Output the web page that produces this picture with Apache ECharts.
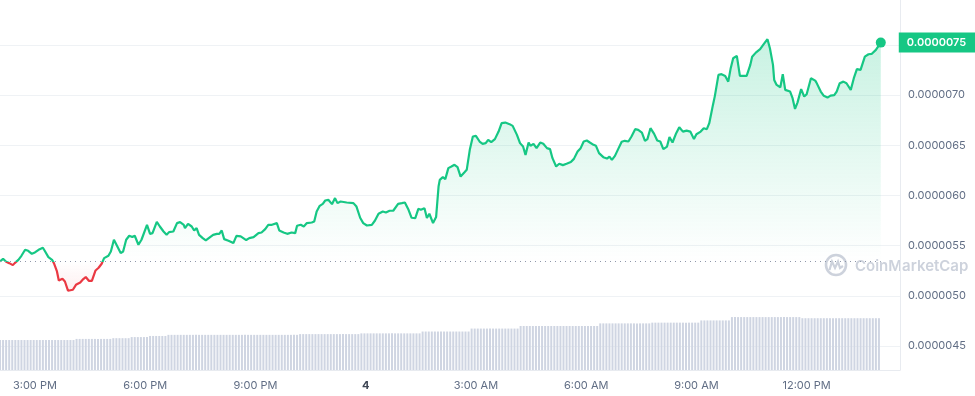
<!DOCTYPE html>
<html><head><meta charset="utf-8">
<script src="https://cdn.jsdelivr.net/npm/echarts@6/dist/echarts.min.js"></script>
<style>html,body{margin:0;padding:0;background:#fff}#c{width:975px;height:396px}</style>
</head><body><div id="c"></div>
<script>
// Chart starts at 14:03 on day 3; hours are counted from midnight of day 3.
const startHour = 14.05;
// Price samples: minutes elapsed since start, and price in USD
const minutes = [0,5,10,15,21,24,30,35,41,46,52,57,63,70,73,79,85,88,93,96,102,106,111,114,119,124,131,136,140,145,150,156,161,166,170,177,181,186,191,197,201,206,211,216,220,226,231,240,245,249,256,261,267,272,276,
283,289,294,300,302,307,313,317,321,325,331,336,343,348,354,358,362,366,373,381,386,393,396,402,407,414,422,427,433,438,444,447,452,456,463,469,476,482,485,491,496,501,509,513,517,522,527,531,536,542,547,551,556,566,577,582,588,593,599,607,
612,618,625,630,636,642,650,656,661,667,672,678,683,687,693,697,701,707,712,716,718,723,727,732,737,742,747,752,758,762,767,772,777,783,788,793,797,802,808,814,819,825,832,837,844,849,854,858,863,866,871,876,882,887,893,898,
902,908,913,919,925,932,937,943,948,953,958,963,969,973,978,985,991,995,999,1004,1010,1015,1020,1026,1031,1037,1042,1048,1053,1057,1062,1068,1073,1078,1083,1089,1093,1098,1104,1109,1115,1121,1127,1133,1137,1144,1149,1154,1158,1164,1167,1173,
1178,1184,1189,1193,1197,1203,1208,1214,1219,1225,1228,1234,1241,1246,1253,1257,1262,1264,1268,1274,1278,1282,1285,1290,1294,1298,1302,1308,1313,1317,1324,1331,1333,1340,1345,1351,1356,1362,1366,1371,1377,1382,1389,1394,1399,1405,1412,1418,1423,1430,1438];
const prices = [
5.342e-6,5.369e-6,5.339e-6,5.326e-6,5.306e-6,5.326e-6,5.359e-6,5.399e-6,5.459e-6,5.449e-6,5.419e-6,5.432e-6,5.459e-6,5.479e-6,5.449e-6,5.386e-6,5.359e-6,5.326e-6,5.243e-6,5.153e-6,
5.170e-6,5.143e-6,5.051e-6,5.034e-6,5.061e-6,5.110e-6,5.133e-6,5.167e-6,5.187e-6,5.150e-6,5.150e-6,5.253e-6,5.280e-6,5.320e-6,5.376e-6,5.399e-6,5.442e-6,5.559e-6,5.499e-6,5.426e-6,
5.442e-6,5.559e-6,5.599e-6,5.586e-6,5.599e-6,5.509e-6,5.559e-6,5.708e-6,5.618e-6,5.625e-6,5.738e-6,5.691e-6,5.641e-6,5.608e-6,5.635e-6,
5.641e-6,5.725e-6,5.735e-6,5.708e-6,5.675e-6,5.718e-6,5.691e-6,5.651e-6,5.675e-6,5.608e-6,5.575e-6,5.552e-6,5.585e-6,5.608e-6,5.618e-6,5.618e-6,5.651e-6,5.565e-6,5.549e-6,5.526e-6,
5.598e-6,5.592e-6,5.585e-6,5.556e-6,5.575e-6,5.585e-6,5.625e-6,5.631e-6,5.665e-6,5.708e-6,5.708e-6,5.691e-6,5.725e-6,5.651e-6,5.631e-6,5.618e-6,5.631e-6,5.625e-6,5.698e-6,5.708e-6,
5.691e-6,5.725e-6,5.731e-6,5.741e-6,5.841e-6,5.897e-6,5.917e-6,5.950e-6,5.957e-6,5.914e-6,5.974e-6,5.924e-6,5.940e-6,5.930e-6,5.924e-6,5.890e-6,5.778e-6,5.725e-6,5.701e-6,5.708e-6,
5.748e-6,5.818e-6,5.841e-6,5.831e-6,5.848e-6,5.848e-6,5.917e-6,5.924e-6,5.930e-6,5.857e-6,5.778e-6,5.775e-6,5.867e-6,5.857e-6,5.874e-6,5.775e-6,5.818e-6,5.725e-6,5.785e-6,6.089e-6,
6.156e-6,6.183e-6,6.163e-6,6.273e-6,6.289e-6,6.306e-6,6.283e-6,6.189e-6,6.229e-6,6.256e-6,6.455e-6,6.588e-6,6.594e-6,6.538e-6,6.515e-6,6.522e-6,6.555e-6,6.532e-6,6.562e-6,6.637e-6,
6.721e-6,6.727e-6,6.711e-6,6.694e-6,6.604e-6,6.522e-6,6.488e-6,6.405e-6,6.528e-6,6.495e-6,6.515e-6,6.472e-6,6.528e-6,6.515e-6,6.472e-6,6.462e-6,
6.372e-6,6.289e-6,6.316e-6,6.303e-6,6.316e-6,6.333e-6,6.365e-6,6.438e-6,6.472e-6,6.538e-6,6.548e-6,6.528e-6,6.505e-6,6.495e-6,6.422e-6,6.382e-6,6.368e-6,6.388e-6,6.355e-6,6.395e-6,
6.472e-6,6.535e-6,6.545e-6,6.538e-6,6.588e-6,6.661e-6,6.654e-6,6.627e-6,6.545e-6,6.562e-6,6.671e-6,6.614e-6,6.548e-6,6.538e-6,6.462e-6,6.488e-6,6.582e-6,6.528e-6,6.621e-6,6.681e-6,
6.637e-6,6.647e-6,6.637e-6,6.562e-6,6.611e-6,6.637e-6,6.671e-6,6.661e-6,6.721e-6,6.903e-6,6.988e-6,7.202e-6,
7.209e-6,7.192e-6,7.135e-6,7.269e-6,7.368e-6,7.391e-6,7.192e-6,7.192e-6,7.192e-6,7.302e-6,7.384e-6,7.424e-6,7.458e-6,7.501e-6,7.558e-6,7.468e-6,7.302e-6,7.152e-6,7.102e-6,7.079e-6,
7.209e-6,7.053e-6,7.070e-6,7.036e-6,6.970e-6,6.863e-6,6.926e-6,7.060e-6,6.986e-6,7.010e-6,7.169e-6,7.145e-6,7.125e-6,7.036e-6,6.993e-6,6.976e-6,6.996e-6,7.000e-6,7.036e-6,7.119e-6,
7.135e-6,7.119e-6,7.053e-6,7.169e-6,7.259e-6,7.252e-6,7.384e-6,7.408e-6,7.411e-6,7.451e-6,7.524e-6];
// Volume bars, one every 5 minutes from the start (arbitrary units, millions)
const volStepMinutes = 5;
const volumes = [
81,81,81,81,81,81,81,81,81,81,81,81,81,81,81,81,81,81,81,81,81,81,81,81,81,
84,84,84,84,84,84,84,84,84,84,84,84,
86,86,86,86,86,86,
89,89,89,89,89,89,
92,92,92,92,92,92,
95,95,95,95,95,95,95,95,95,95,95,95,95,95,95,95,95,95,95,95,95,95,95,95,95,95,95,95,95,95,95,95,95,95,95,95,95,95,95,95,95,95,95,
97,97,97,97,97,97,97,97,97,97,97,97,97,97,97,97,97,97,97,97,99,99,99,99,99,99,99,99,99,99,99,99,99,99,99,99,99,99,99,99,
104,104,104,104,104,104,104,104,104,104,104,104,104,104,104,104,
112,112,112,112,112,112,112,112,112,112,112,112,112,112,112,112,
119,119,119,119,119,119,119,119,119,119,119,119,119,119,119,119,119,119,119,119,119,119,119,119,119,119,
126,126,126,126,126,126,126,126,126,126,126,126,126,126,126,126,126,128,128,128,128,128,128,128,128,128,128,128,128,128,128,128,128,
134,134,134,134,134,134,134,134,134,134,
143,143,143,143,143,143,143,143,143,143,143,143,143,143,143,143,143,143,143,143,143,143,143,
140,140,140,140,140,140,140,140,140,140,140,140,140,140,140,140,140,140,140,140,140,140,140,140,140,140];
const xTickHours = [15,18,21,24,27,30,33,36];
const xTickLabels = ['3:00 PM','6:00 PM','9:00 PM','4','3:00 AM','6:00 AM','9:00 AM','12:00 PM'];
const yTickMin = 4.5e-6, yTickMax = 7.5e-6, yTickStep = 0.5e-6;

const GREEN = '#16c784', RED = '#ea3943';
const X_MIN = startHour, X_MAX = startHour + 900 / 36.75;
const basePrice = prices[0];
const lastPrice = prices[prices.length - 1];
const priceData = minutes.map((m, i) => [startHour + m / 60, prices[i]]);
const volData = volumes.map((v, i) => [startHour + i * volStepMinutes / 60, v]);
const lastPoint = priceData[priceData.length - 1];

const chart = echarts.init(document.getElementById('c'));
const axisGray = '#616e85';
const option = {
  animation: false,
  textStyle: { fontFamily: 'Inter' },
  grid: [
    { left: 0, right: 75, top: 45, bottom: 50 },
    { left: 0, right: 75, top: 0, bottom: 26 }
  ],
  xAxis: [
    { type: 'value', gridIndex: 0, min: X_MIN, max: X_MAX, show: false },
    { type: 'value', gridIndex: 1, min: X_MIN, max: X_MAX,
      axisLine: { show: true, lineStyle: { color: '#e8ebf0' } },
      axisTick: { show: false }, splitLine: { show: false },
      axisLabel: { customValues: xTickHours, color: axisGray, fontSize: 11, margin: 10,
        formatter: v => {
          let idx = 0, best = 1e9;
          xTickHours.forEach((h, i) => { if (Math.abs(h - v) < best) { best = Math.abs(h - v); idx = i; } });
          const t = xTickLabels[idx];
          return t === '4' ? '{b|4}' : t;
        },
        rich: { b: { fontWeight: 'bold', color: '#3d4554', fontSize: 11 } } } }
  ],
  yAxis: [
    { type: 'value', gridIndex: 0, position: 'right', min: yTickMin, max: yTickMax, interval: yTickStep,
      axisLine: { show: false }, axisTick: { show: false },
      splitLine: { lineStyle: { color: '#eff2f5', width: 1 } },
      axisLabel: { color: axisGray, fontSize: 11, margin: 8, formatter: v => v.toFixed(7) } },
    { type: 'value', gridIndex: 1, position: 'right', min: 0, max: 1000,
      axisLine: { show: true, lineStyle: { color: '#e8ebf0' } },
      axisTick: { show: false }, axisLabel: { show: false }, splitLine: { show: false } }
  ],
  series: [
    { type: 'bar', xAxisIndex: 1, yAxisIndex: 1, data: volData, barWidth: 2,
      itemStyle: { color: '#cfd5e2' }, silent: true, z: 1 },
    { type: 'line', xAxisIndex: 0, yAxisIndex: 0, data: priceData, showSymbol: false, clip: false,
      lineStyle: { width: 2.2, color: GREEN }, z: 3,
      areaStyle: { origin: basePrice, color: 'rgba(22,199,132,0.2)' },
      markLine: { silent: true, symbol: 'none', label: { show: false },
        lineStyle: { color: '#8f98aa', type: [1, 4], width: 1 },
        data: [[{ coord: [X_MIN, basePrice] }, { coord: [lastPoint[0], basePrice] }]] } },
    { type: 'scatter', xAxisIndex: 0, yAxisIndex: 0, data: [lastPoint], symbolSize: 10, z: 5, clip: false,
      itemStyle: { color: GREEN, opacity: 1 },
      label: { show: true, position: 'right', distance: 13, formatter: () => lastPrice.toFixed(7),
        backgroundColor: GREEN, color: '#fff', fontSize: 11, fontWeight: 600, padding: [5, 9, 4, 8], fontFamily: 'Inter', opacity: 1 } }
  ],
  graphic: [
    { type: 'group', silent: true, z: 0, children: [
      { type: 'circle', shape: { cx: 836, cy: 265, r: 10 }, style: { fill: 'none', stroke: '#cdd2dc', lineWidth: 2.6 } },
      { type: 'polyline', shape: { points: [[829.5, 270], [832, 261.5], [835, 268], [838, 261.5], [840, 268], [843, 266]] },
        style: { fill: 'none', stroke: '#cdd2dc', lineWidth: 2.2 } },
      { type: 'text', x: 855, y: 266, style: { text: 'CoinMarketCap', fill: '#cdd2dc', font: '600 15px Inter', verticalAlign: 'middle' } }
    ] }
  ]
};
chart.setOption(option);
const py = chart.convertToPixel({ yAxisIndex: 0 }, basePrice);
const topY = chart.convertToPixel({ yAxisIndex: 0 }, 7.6e-6);
const H = 396;
const o = Math.min(Math.max(py / H, 0), 1);
chart.setOption({ series: [{}, {
  lineStyle: { color: { type: 'linear', x: 0, y: 0, x2: 0, y2: H, global: true, colorStops: [
    { offset: 0, color: GREEN }, { offset: o, color: GREEN }, { offset: o, color: RED }, { offset: 1, color: RED }] } },
  areaStyle: { color: { type: 'linear', x: 0, y: 0, x2: 0, y2: H, global: true, colorStops: [
    { offset: 0, color: 'rgba(22,199,132,0.36)' }, { offset: topY / H, color: 'rgba(22,199,132,0.34)' },
    { offset: o, color: 'rgba(22,199,132,0.0)' }, { offset: o, color: 'rgba(234,57,67,0.0)' },
    { offset: Math.min(o + 40 / H, 1), color: 'rgba(234,57,67,0.16)' }, { offset: 1, color: 'rgba(234,57,67,0.16)' }] } }
}, {}] });
</script></body></html>
